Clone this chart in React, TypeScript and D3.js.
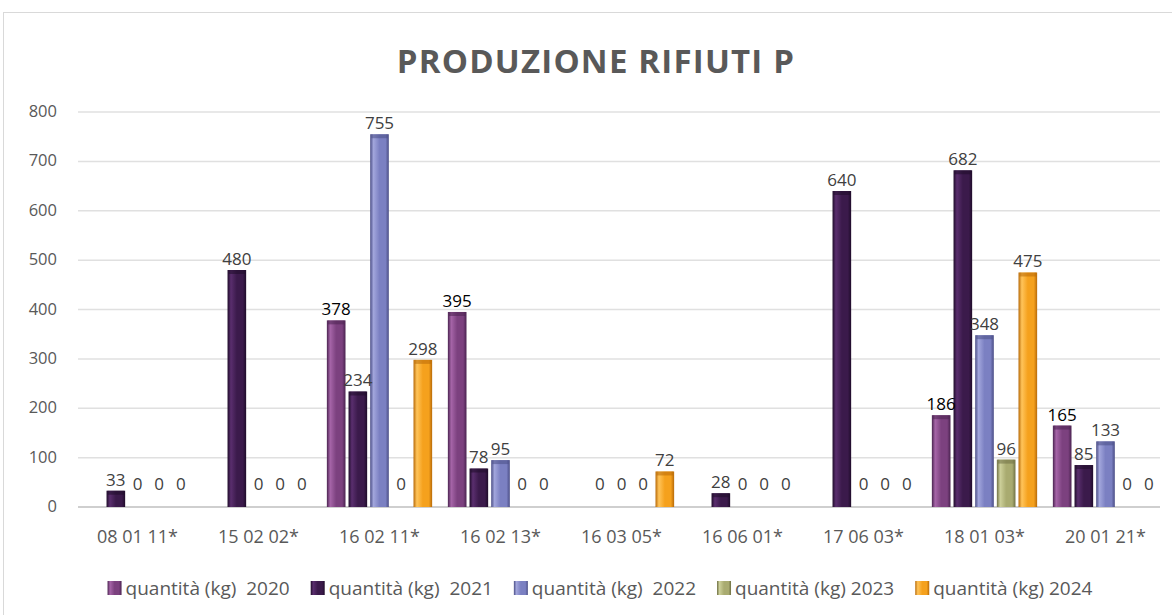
import React, { useEffect, useRef } from 'react';
import * as d3 from 'd3';

// waste codes on the x axis
const categories = ['08 01 11*', '15 02 02*', '16 02 11*', '16 02 13*', '16 03 05*', '16 06 01*', '17 06 03*', '18 01 03*', '20 01 21*'];
const seriesNames = ['quantità (kg)  2020', 'quantità (kg)  2021', 'quantità (kg)  2022', 'quantità (kg) 2023', 'quantità (kg) 2024'];
// null = empty cell (no label shown)
const q2020 = [null, null, 378, 395, null, null, null, 186, 165];
const q2021 = [33, 480, 234, 78, 0, 28, 640, 682, 85];
const q2022 = [0, 0, 755, 95, 0, 0, 0, 348, 133];
const q2023 = [0, 0, 0, 0, 0, 0, 0, 96, 0];
const q2024 = [0, 0, 298, 0, 72, 0, 0, 475, 0];
const yTicks = [0, 100, 200, 300, 400, 500, 600, 700, 800];

const series = [q2020, q2021, q2022, q2023, q2024];
const palette = [
    ['#a665a8', '#7c417f', '#4a2350'],
    ['#5a2e6e', '#3b1a4b', '#1f0c2a'],
    ['#a2a6dc', '#7b80c2', '#4b4e86'],
    ['#cdd09a', '#a9ab70', '#6f7044'],
    ['#ffc45a', '#f5a11d', '#b86a08']
];
// labels drawn in black in the source chart
const blackLabels = new Set(['0-2', '0-3', '0-7', '0-8']);

export default function App() {
    const ref = useRef<SVGSVGElement>(null);

    useEffect(() => {
        const svg = d3.select(ref.current);
        svg.selectAll('*').remove();
        const font = '"Open Sans", Lato, sans-serif';

        const x0 = d3.scaleBand().domain(categories).range([77, 1166]).paddingInner(0.13).paddingOuter(0.065);
        const x1 = d3.scaleBand().domain(d3.range(5).map(String)).range([0, x0.bandwidth()]).paddingInner(0.14);
        const y = d3.scaleLinear().domain([0, 800]).range([507, 112]);

        const defs = svg.append('defs');
        palette.forEach((p, i) => {
            const g = defs.append('linearGradient').attr('id', 'g' + i).attr('x1', 0).attr('x2', 1).attr('y1', 0).attr('y2', 0);
            g.append('stop').attr('offset', '0%').attr('stop-color', p[2]);
            g.append('stop').attr('offset', '18%').attr('stop-color', p[0]);
            g.append('stop').attr('offset', '50%').attr('stop-color', p[1]);
            g.append('stop').attr('offset', '82%').attr('stop-color', p[1]);
            g.append('stop').attr('offset', '100%').attr('stop-color', p[2]);
        });

        // chart border
        svg.append('rect').attr('x', 3.5).attr('y', 12.5).attr('width', 1180).attr('height', 620)
            .attr('fill', 'white').attr('stroke', '#d9d9d9');

        svg.append('text').attr('x', 596).attr('y', 73).attr('text-anchor', 'middle')
            .attr('font-family', font).attr('font-size', 33).attr('font-weight', 'bold').attr('fill', '#595959')
            .attr('letter-spacing', 1.2)
            .text('PRODUZIONE RIFIUTI P');

        // gridlines + y labels
        svg.append('g').selectAll('line').data(yTicks).join('line')
            .attr('x1', 78).attr('x2', 1160).attr('y1', d => y(d)).attr('y2', d => y(d))
            .attr('stroke', d => d === 0 ? '#cfcfcf' : '#e0e0e0').attr('stroke-width', d => d === 0 ? 2 : 1.5);
        svg.append('g').selectAll('text').data(yTicks).join('text')
            .attr('x', 57).attr('y', d => y(d) + 5).attr('text-anchor', 'end')
            .attr('font-family', font).attr('font-size', 16.5).attr('fill', '#595959')
            .text(d => d);

        // category labels
        svg.append('g').selectAll('text').data(categories).join('text')
            .attr('x', d => x0(d)! + x0.bandwidth() / 2).attr('y', 543).attr('text-anchor', 'middle')
            .attr('font-family', font).attr('font-size', 18).attr('fill', '#595959')
            .text(d => d);

        // bars
        const bars = svg.append('g');
        const labels = svg.append('g');
        series.forEach((vals, si) => {
            vals.forEach((v, ci) => {
                if (v === null) return;
                const bx = x0(categories[ci])! + x1(String(si))!;
                const bw = x1.bandwidth();
                if (v > 0) {
                    bars.append('rect').attr('x', bx).attr('y', y(v)).attr('width', bw).attr('height', y(0) - y(v))
                        .attr('fill', `url(#g${si})`);
                    bars.append('rect').attr('x', bx + 1).attr('y', y(v)).attr('width', bw - 2).attr('height', 4)
                        .attr('fill', palette[si][2]).attr('opacity', 0.55);
                }
                labels.append('text')
                    .attr('x', bx + bw / 2).attr('y', Math.min(y(v) - 5, y(0) - 17))
                    .attr('text-anchor', 'middle')
                    .attr('font-family', font).attr('font-size', 17)
                    .attr('fill', blackLabels.has(`${si}-${ci}`) ? '#000' : '#404040')
                    .text(v);
            });
        });

        // legend
        const legend = svg.append('g');
        let lx = 0;
        seriesNames.forEach((name, i) => {
            const item = legend.append('g').attr('transform', `translate(${lx},0)`);
            item.append('rect').attr('x', 0).attr('y', -14).attr('width', 14).attr('height', 14).attr('fill', `url(#g${i})`);
            const t = item.append('text').attr('x', 18).attr('y', 0)
                .attr('font-family', font).attr('font-size', 19).attr('fill', '#595959')
                .style('white-space', 'pre').text(name);
            lx += 18 + (t.node() as SVGTextElement).getComputedTextLength() + 21;
        });
        const total = lx - 21;
        legend.attr('transform', `translate(${600 - total / 2},${595})`);
    }, []);

    return <svg ref={ref} width={1172} height={615} style={{ display: 'block', position: 'absolute', left: 0, top: 0 }} />;
}
